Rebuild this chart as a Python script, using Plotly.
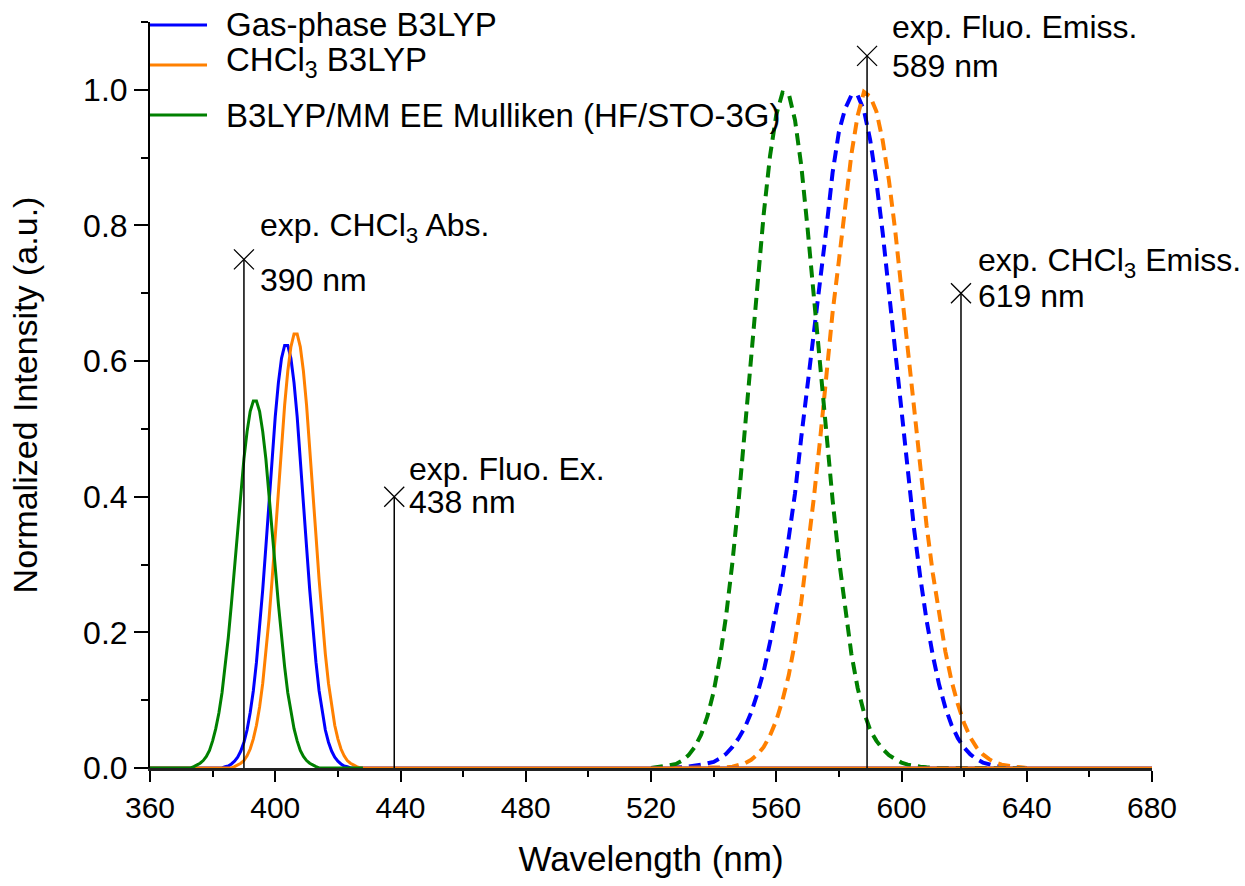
import plotly.graph_objects as go

# ---------------- data ----------------
abs_wl = [360, 372, 373, 374, 375, 376, 377, 378, 379, 380, 381, 382, 383, 384, 385, 386, 387,
          388, 389, 390, 391, 392, 393, 394, 395, 396, 397, 398, 399, 400, 401, 402, 403,
          404, 405, 406, 407, 408, 409, 410, 411, 412, 413, 414, 415, 416, 417, 418, 419,
          420, 421, 422, 423, 424, 425, 426, 427, 428, 680]

abs_gas = [0, 0, 0, 0, 0, 0, 0, 0, 0, 0, 0, 0, 0,
           0.002, 0.003, 0.006, 0.010, 0.016, 0.025, 0.038, 0.056, 0.082, 0.114, 0.156, 0.206,
           0.263, 0.326, 0.393, 0.458, 0.518, 0.568, 0.604, 0.623, 0.623, 0.604, 0.568, 0.518,
           0.458, 0.393, 0.326, 0.263, 0.206, 0.156, 0.114, 0.082, 0.056, 0.038, 0.025, 0.016,
           0.010, 0.006, 0.003, 0.002, 0, 0, 0, 0, 0, 0]

abs_chcl3 = [0, 0, 0, 0, 0, 0, 0, 0, 0, 0, 0, 0, 0, 0, 0, 0,
             0.002, 0.004, 0.007, 0.011, 0.018, 0.028, 0.043, 0.063, 0.090, 0.125, 0.168, 0.219,
             0.278, 0.343, 0.410, 0.475, 0.535, 0.585, 0.621, 0.640, 0.640, 0.621, 0.585, 0.535,
             0.475, 0.410, 0.343, 0.278, 0.219, 0.168, 0.125, 0.090, 0.063, 0.043, 0.028, 0.018,
             0.011, 0.007, 0.004, 0.002, 0, 0, 0]

abs_mm = [0, 0, 0,
          0.002, 0.004, 0.007, 0.011, 0.017, 0.026, 0.040, 0.058, 0.081, 0.111, 0.149, 0.192,
          0.242, 0.296, 0.352, 0.406, 0.456, 0.496, 0.526, 0.541, 0.541, 0.526, 0.496, 0.456,
          0.406, 0.352, 0.296, 0.242, 0.192, 0.149, 0.111, 0.081, 0.058, 0.040, 0.026, 0.017,
          0.011, 0.007, 0.004, 0.002, 0, 0, 0, 0, 0, 0, 0, 0, 0, 0, 0, 0, 0, 0, 0]

em_wl = [520, 522, 524, 526, 528, 530, 532, 534, 536, 538, 540, 542, 544, 546, 548, 550,
         552, 554, 556, 558, 560, 562, 564, 566, 568, 570, 572, 574, 576, 578, 580, 582,
         584, 586, 588, 590, 592, 594, 596, 598, 600, 602, 604, 606, 608, 610, 612, 614,
         616, 618, 620, 622, 624, 626, 628, 630, 632, 634, 636, 638, 640]

em_gas = [0, 0, 0, 0, 0.001, 0.001, 0.002, 0.003, 0.005, 0.007, 0.009, 0.014, 0.021, 0.031,
          0.044, 0.060, 0.082, 0.110, 0.143, 0.185, 0.232, 0.282, 0.340, 0.405, 0.488, 0.565,
          0.630, 0.710, 0.795, 0.878, 0.938, 0.972, 0.992, 0.992, 0.970, 0.926, 0.864, 0.789,
          0.703, 0.613, 0.522, 0.434, 0.353, 0.281, 0.218, 0.166, 0.123, 0.089, 0.063, 0.044,
          0.030, 0.020, 0.013, 0.008, 0.005, 0.003, 0.002, 0.001, 0, 0, 0]

em_chcl3 = [0, 0, 0, 0, 0, 0, 0, 0, 0, 0, 0, 0, 0.001, 0.002, 0.004, 0.007, 0.012, 0.020,
            0.031, 0.048, 0.070, 0.100, 0.137, 0.186, 0.245, 0.318, 0.398, 0.484, 0.578, 0.672,
            0.748, 0.830, 0.905, 0.962, 0.997, 0.990, 0.968, 0.925, 0.866, 0.792, 0.700, 0.618,
            0.532, 0.442, 0.358, 0.287, 0.227, 0.172, 0.128, 0.094, 0.066, 0.045, 0.030, 0.020,
            0.013, 0.008, 0.005, 0.003, 0.002, 0.001, 0]

em_mm = [0, 0.001, 0.002, 0.004, 0.006, 0.011, 0.019, 0.031, 0.049, 0.076, 0.112, 0.162,
         0.225, 0.303, 0.395, 0.497, 0.607, 0.716, 0.817, 0.902, 0.963, 0.996, 0.994, 0.955,
         0.888, 0.796, 0.695, 0.592, 0.492, 0.395, 0.308, 0.232, 0.168, 0.118, 0.082, 0.056,
         0.040, 0.028, 0.019, 0.013, 0.008, 0.005, 0.003, 0.002, 0.001,
         0, 0, 0, 0, 0, 0, 0, 0, 0, 0, 0, 0, 0, 0, 0, 0]

exp_wl = [390, 438, 589, 619]
exp_height = [0.75, 0.40, 1.05, 0.70]
exp_label = ["exp. CHCl<sub>3</sub> Abs.", "exp. Fluo. Ex.", "exp. Fluo. Emiss.",
             "exp. CHCl<sub>3</sub> Emiss."]

series_names = ["Gas-phase B3LYP", "CHCl<sub>3</sub> B3LYP", "B3LYP/MM EE Mulliken (HF/STO-3G)"]

x_ticks = [360, 400, 440, 480, 520, 560, 600, 640, 680]
y_ticks = [0.0, 0.2, 0.4, 0.6, 0.8, 1.0]

# ---------------- style ----------------
colors = ["#0000FF", "#FF8000", "#008000"]
label_xshift = [14, 13, 23, 15]
label_yshift_top = [32, 28, 29, 31]
label_yshift_bottom = [-21, -5, -10, -3]
legend_rows_y = [0.996, 0.9424, 0.8753]      # paper y of the legend rows
legend_text_yshift = [0, 3, 0]
FONT = "Arial, Liberation Sans, sans-serif"

fig = go.Figure()

for em, c in zip([em_gas, em_chcl3, em_mm], colors):
    fig.add_trace(go.Scatter(x=em_wl, y=em, mode="lines", showlegend=False,
                             line=dict(color=c, width=4, dash="12px,7px")))

for ab, c, n in zip([abs_gas, abs_chcl3, abs_mm], colors, series_names):
    fig.add_trace(go.Scatter(x=abs_wl, y=ab, mode="lines", name=n, showlegend=False,
                             line=dict(color=c, width=3)))

for w, h in zip(exp_wl, exp_height):
    fig.add_trace(go.Scatter(x=[w, w], y=[0, h], mode="lines", showlegend=False,
                             line=dict(color="black", width=1.5)))
fig.add_trace(go.Scatter(x=exp_wl, y=exp_height, mode="markers", showlegend=False,
                         marker=dict(symbol="x-thin", size=20,
                                     line=dict(color="black", width=1.3))))

for w, h, lab, xs, yt, yb in zip(exp_wl, exp_height, exp_label, label_xshift,
                                  label_yshift_top, label_yshift_bottom):
    fig.add_annotation(x=w, y=h, xref="x", yref="y", text=lab,
                       showarrow=False, xanchor="left", yanchor="middle", align="left",
                       xshift=xs, yshift=yt, font=dict(family=FONT, size=32, color="black"))
    fig.add_annotation(x=w, y=h, xref="x", yref="y", text=f"{w} nm",
                       showarrow=False, xanchor="left", yanchor="middle", align="left",
                       xshift=xs, yshift=yb, font=dict(family=FONT, size=32, color="black"))

# legend (drawn as line samples + labels)
for n, c, ry, ys in zip(series_names, colors, legend_rows_y, legend_text_yshift):
    fig.add_shape(type="line", xref="paper", yref="paper", x0=0, x1=0.0569, y0=ry, y1=ry,
                  line=dict(color=c, width=3))
    fig.add_annotation(x=0.0739, y=ry, xref="paper", yref="paper", text=n,
                       showarrow=False, xanchor="left", yanchor="middle", align="left",
                       yshift=ys, font=dict(family=FONT, size=33, color="black"))

fig.update_layout(
    width=1245, height=886,
    margin=dict(l=150, r=93, t=22, b=118),
    paper_bgcolor="white", plot_bgcolor="white",
    font=dict(family=FONT, color="black"),
    showlegend=False,
)

fig.update_xaxes(range=[360, 680], tickvals=x_ticks, ticktext=[str(v) for v in x_ticks],
                 showgrid=False, zeroline=False, showline=True, linecolor="#222",
                 linewidth=3, ticks="outside", ticklen=11, tickwidth=2, tickcolor="black",
                 layer="below traces",
                 minor=dict(dtick=20, ticks="outside", ticklen=6, tickwidth=2,
                            tickcolor="black", showgrid=False),
                 tickfont=dict(family=FONT, size=30),
                 title=dict(text="Wavelength (nm)", font=dict(family=FONT, size=35),
                            standoff=24))
fig.update_yaxes(range=[0, 1.1], tickvals=y_ticks, ticktext=[f"{v:.1f}" for v in y_ticks],
                 showgrid=False, zeroline=False, showline=True, linecolor="black",
                 linewidth=2, ticks="outside", ticklen=14, tickwidth=2, tickcolor="black",
                 minor=dict(dtick=0.1, ticks="outside", ticklen=7, tickwidth=2,
                            tickcolor="black", showgrid=False),
                 tickfont=dict(family=FONT, size=32),
                 title=dict(text="Normalized Intensity (a.u.)", font=dict(family=FONT, size=34),
                            standoff=35))

fig.write_html("out.html", config={"displayModeBar": False},
               post_script="document.body.style.margin='0px';")
